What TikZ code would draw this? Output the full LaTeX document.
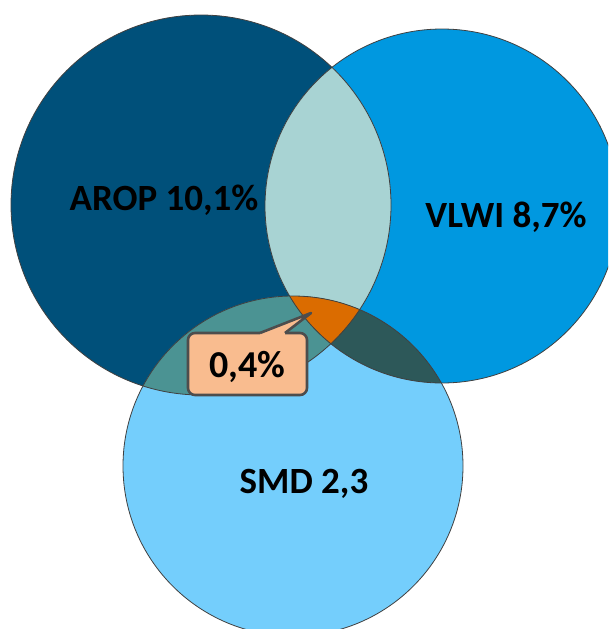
\documentclass[tikz,border=0pt]{standalone}
\usepackage{fontspec}
\setmainfont{Carlito}
\definecolor{aropc}{HTML}{00507A}
\definecolor{vlwic}{HTML}{0098E0}
\definecolor{smdc}{HTML}{74CEFC}
\definecolor{avc}{HTML}{A8D3D3}
\definecolor{asc}{HTML}{4B9393}
\definecolor{vsc}{HTML}{2D5859}
\definecolor{allc}{HTML}{DB6C00}
\definecolor{peach}{HTML}{F9BC8F}
\definecolor{calloutline}{HTML}{4D4D4D}
\tikzset{
  ring/.style={draw=black!75, line width=0.8pt},
  lbl/.style={font=\bfseries\fontsize{37}{40}\selectfont, text=black, anchor=base, inner sep=0pt},
  callbox/.style={draw=calloutline, line width=2.6pt, fill=peach, rounded corners=7pt,
    minimum width=119pt, minimum height=62pt, inner sep=0pt,
    font=\bfseries\fontsize{38}{40}\selectfont, text height=30pt, text depth=4pt},
  tailfill/.style={fill=peach},
  tailline/.style={draw=calloutline, line width=2.6pt, line join=round},
}
\begin{document}
\begin{tikzpicture}[x=1pt,y=-1pt]
\useasboundingbox (0,0) rectangle (608,629);
\clip (0,0) rectangle (608,629);
\coordinate (A) at (201,205);
\coordinate (V) at (442,206);
\coordinate (S) at (293,466);
\def\rA{190pt}\def\rV{177pt}\def\rS{170pt}
% base discs
\fill[aropc] (A) circle[radius=\rA];
\fill[vlwic] (V) circle[radius=\rV];
\fill[smdc] (S) circle[radius=\rS];
% pairwise overlaps
\begin{scope}
  \clip (A) circle[radius=\rA];
  \fill[avc] (V) circle[radius=\rV];
  \fill[asc] (S) circle[radius=\rS];
\end{scope}
\begin{scope}
  \clip (V) circle[radius=\rV];
  \fill[vsc] (S) circle[radius=\rS];
\end{scope}
% triple overlap
\begin{scope}
  \clip (A) circle[radius=\rA];
  \clip (V) circle[radius=\rV];
  \fill[allc] (S) circle[radius=\rS];
\end{scope}
% outlines
\draw[ring] (A) circle[radius=\rA];
\draw[ring] (V) circle[radius=\rV];
\draw[ring] (S) circle[radius=\rS];
% labels
\node[lbl] (arop) at (164,210) {AROP 10,1\%};
\node[lbl] (vlwi) at (506,227) {VLWI 8,7\%};
\node[lbl] (smd) at (304,493) {SMD 2,3};
% callout
\node[callbox] (pct) at (247.5,364) {0,4\%};
\coordinate (tip) at (311,313);
\coordinate (tl) at (260,333);
\coordinate (tr) at (285,333);
\fill[tailfill] ([yshift=-4pt]tl) -- (tl) -- (tip) -- (tr) -- ([yshift=-4pt]tr) -- cycle;
\draw[tailline] (tl) -- (tip) -- (tr);
\end{tikzpicture}
\end{document}
